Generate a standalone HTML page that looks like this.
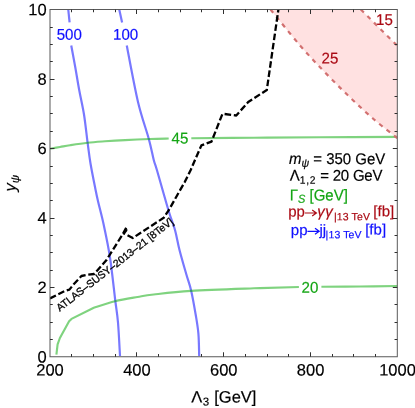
<!DOCTYPE html>
<html>
<head>
<meta charset="utf-8">
<style>
html,body{margin:0;padding:0;background:#fff;}
body{width:415px;height:408px;overflow:hidden;}
svg{display:block;will-change:transform;}
text{font-family:"Liberation Sans",sans-serif;stroke-width:0.18px;}
.it{font-style:italic;}
</style>
</head>
<body>
<svg width="415" height="408" viewBox="0 0 415 408">
<rect width="415" height="408" fill="#fff"/>
<defs><clipPath id="cp"><rect x="50.0" y="9.5" width="347.3" height="347.25"/></clipPath></defs>
<g clip-path="url(#cp)" fill="none" stroke-linejoin="round">
<path d="M270.50,9.50 C275.42,15.48 291.00,35.00 300.00,45.40 C309.00,55.80 316.33,63.40 324.50,71.90 C332.67,80.40 340.83,88.55 349.00,96.40 C357.17,104.25 365.42,112.02 373.50,119.00 C381.58,125.98 393.50,135.08 397.50,138.30 L397.5,46.0 L360.8,9.5 Z" fill="#ffe1e1" stroke="none"/>
<path d="M68.25,9.50 L69.60,22.40" stroke="#0000ff" stroke-opacity="0.53" stroke-width="2.2"/>
<path d="M71.25,45.50 C71.94,49.25 74.08,60.58 75.40,68.00 C76.73,75.42 77.77,82.25 79.20,90.00 C80.63,97.75 82.60,105.72 84.00,114.50 C85.40,123.28 86.52,134.53 87.60,142.70 C88.68,150.87 89.17,155.62 90.50,163.50 C91.83,171.38 94.32,183.58 95.60,190.00 C96.88,196.42 96.84,196.17 98.20,202.00 C99.56,207.83 101.78,215.75 103.75,225.00 C105.72,234.25 108.09,245.00 110.00,257.50 C111.91,270.00 113.87,289.17 115.20,300.00 C116.53,310.83 117.20,313.17 118.00,322.50 C118.80,331.83 119.67,350.42 120.00,356.00" stroke="#0000ff" stroke-opacity="0.53" stroke-width="2.2"/>
<path d="M119.25,9.50 L122.10,22.40" stroke="#0000ff" stroke-opacity="0.53" stroke-width="2.2"/>
<path d="M126.75,45.50 C128.62,54.92 134.33,86.46 138.00,102.00 C141.67,117.54 146.12,129.08 148.75,138.75 C151.38,148.42 152.39,154.79 153.75,160.00 C155.11,165.21 154.40,161.46 156.90,170.00 C159.40,178.54 165.73,201.25 168.75,211.25 C171.77,221.25 173.21,223.54 175.00,230.00 C176.79,236.46 177.62,242.62 179.50,250.00 C181.38,257.38 184.37,267.57 186.30,274.30 C188.23,281.03 189.53,283.67 191.10,290.40 C192.67,297.13 194.48,307.50 195.70,314.70 C196.92,321.90 197.82,326.72 198.40,333.60 C198.98,340.48 199.07,352.27 199.20,356.00" stroke="#0000ff" stroke-opacity="0.53" stroke-width="2.2"/>
<path d="M50.00,148.75 C51.67,148.46 56.67,147.59 60.00,147.00 C63.33,146.41 65.42,145.92 70.00,145.20 C74.58,144.48 81.67,143.35 87.50,142.70 C93.33,142.05 98.75,141.73 105.00,141.30 C111.25,140.87 117.50,140.48 125.00,140.10 C132.50,139.72 142.72,139.27 150.00,139.00 C157.28,138.73 165.58,138.58 168.70,138.50" stroke="#00a800" stroke-opacity="0.5" stroke-width="2.15"/>
<path d="M191.30,138.30 C201.75,138.20 232.55,137.87 254.00,137.70 C275.45,137.53 296.08,137.43 320.00,137.30 C343.92,137.17 384.58,136.97 397.50,136.90" stroke="#00a800" stroke-opacity="0.5" stroke-width="2.15"/>
<path d="M56.40,354.60 L57.60,344.40 L59.90,338.00 L69.10,321.30 L71.50,318.90 L93.80,307.70 C97.33,306.62 107.72,303.03 115.00,301.25 C122.28,299.47 131.04,298.12 137.50,297.00 C143.96,295.88 144.83,295.52 153.75,294.50 C162.67,293.48 174.29,291.93 191.00,290.90 C207.71,289.87 236.02,288.95 254.00,288.30 C271.98,287.65 291.42,287.22 298.90,287.00" stroke="#00a800" stroke-opacity="0.5" stroke-width="2.15"/>
<path d="M321.40,286.80 C327.83,286.75 347.32,286.63 360.00,286.50 C372.68,286.37 391.25,286.08 397.50,286.00" stroke="#00a800" stroke-opacity="0.5" stroke-width="2.15"/>
<path d="M270.50,9.50 C275.42,15.48 291.00,35.00 300.00,45.40 C309.00,55.80 316.33,63.40 324.50,71.90 C332.67,80.40 340.83,88.55 349.00,96.40 C357.17,104.25 365.42,112.02 373.50,119.00 C381.58,125.98 393.50,135.08 397.50,138.30" stroke="#d27070" stroke-width="2.2" stroke-dasharray="4.3 5.0"/>
<path d="M360.80,9.50 L397.50,46.00" stroke="#d27070" stroke-width="2.2" stroke-dasharray="4.3 5.0"/>
<path d="M50.00,298.40 L65.20,290.80 L69.40,289.60 L73.70,284.30 L81.40,276.00 L86.60,274.90 L94.30,274.00 L106.30,260.30 L117.50,242.50 L123.00,233.80 L126.50,227.20 L126.20,230.60 L123.80,233.40 L132.70,238.00 L163.70,217.80 L168.60,210.40 L177.60,194.50 L184.60,182.30 L190.70,170.00 L195.00,160.00 L201.40,145.40 L211.50,141.60 L222.50,113.75 L236.25,115.50 L248.20,102.00 L266.80,90.00 L278.40,9.50" stroke="#000" stroke-width="2.3" stroke-dasharray="6.6 2.7"/>
</g>
<rect x="50.0" y="9.5" width="347.3" height="347.25" fill="none" stroke="#595959" stroke-width="1"/>
<g stroke="#303030" stroke-width="1">
<line x1="71.50" y1="356.75" x2="71.50" y2="354.00"/>
<line x1="71.50" y1="9.50" x2="71.50" y2="12.25"/>
<line x1="93.50" y1="356.75" x2="93.50" y2="354.00"/>
<line x1="93.50" y1="9.50" x2="93.50" y2="12.25"/>
<line x1="115.50" y1="356.75" x2="115.50" y2="354.00"/>
<line x1="115.50" y1="9.50" x2="115.50" y2="12.25"/>
<line x1="136.50" y1="356.75" x2="136.50" y2="352.25"/>
<line x1="136.50" y1="9.50" x2="136.50" y2="14.00"/>
<line x1="158.50" y1="356.75" x2="158.50" y2="354.00"/>
<line x1="158.50" y1="9.50" x2="158.50" y2="12.25"/>
<line x1="180.50" y1="356.75" x2="180.50" y2="354.00"/>
<line x1="180.50" y1="9.50" x2="180.50" y2="12.25"/>
<line x1="201.50" y1="356.75" x2="201.50" y2="354.00"/>
<line x1="201.50" y1="9.50" x2="201.50" y2="12.25"/>
<line x1="223.50" y1="356.75" x2="223.50" y2="352.25"/>
<line x1="223.50" y1="9.50" x2="223.50" y2="14.00"/>
<line x1="245.50" y1="356.75" x2="245.50" y2="354.00"/>
<line x1="245.50" y1="9.50" x2="245.50" y2="12.25"/>
<line x1="267.50" y1="356.75" x2="267.50" y2="354.00"/>
<line x1="267.50" y1="9.50" x2="267.50" y2="12.25"/>
<line x1="288.50" y1="356.75" x2="288.50" y2="354.00"/>
<line x1="288.50" y1="9.50" x2="288.50" y2="12.25"/>
<line x1="310.50" y1="356.75" x2="310.50" y2="352.25"/>
<line x1="310.50" y1="9.50" x2="310.50" y2="14.00"/>
<line x1="332.50" y1="356.75" x2="332.50" y2="354.00"/>
<line x1="332.50" y1="9.50" x2="332.50" y2="12.25"/>
<line x1="353.50" y1="356.75" x2="353.50" y2="354.00"/>
<line x1="353.50" y1="9.50" x2="353.50" y2="12.25"/>
<line x1="375.50" y1="356.75" x2="375.50" y2="354.00"/>
<line x1="375.50" y1="9.50" x2="375.50" y2="12.25"/>
<line x1="50.00" y1="339.50" x2="52.75" y2="339.50"/>
<line x1="397.30" y1="339.50" x2="394.55" y2="339.50"/>
<line x1="50.00" y1="322.50" x2="52.75" y2="322.50"/>
<line x1="397.30" y1="322.50" x2="394.55" y2="322.50"/>
<line x1="50.00" y1="304.50" x2="52.75" y2="304.50"/>
<line x1="397.30" y1="304.50" x2="394.55" y2="304.50"/>
<line x1="50.00" y1="287.50" x2="54.50" y2="287.50"/>
<line x1="397.30" y1="287.50" x2="392.80" y2="287.50"/>
<line x1="50.00" y1="270.50" x2="52.75" y2="270.50"/>
<line x1="397.30" y1="270.50" x2="394.55" y2="270.50"/>
<line x1="50.00" y1="252.50" x2="52.75" y2="252.50"/>
<line x1="397.30" y1="252.50" x2="394.55" y2="252.50"/>
<line x1="50.00" y1="235.50" x2="52.75" y2="235.50"/>
<line x1="397.30" y1="235.50" x2="394.55" y2="235.50"/>
<line x1="50.00" y1="218.50" x2="54.50" y2="218.50"/>
<line x1="397.30" y1="218.50" x2="392.80" y2="218.50"/>
<line x1="50.00" y1="200.50" x2="52.75" y2="200.50"/>
<line x1="397.30" y1="200.50" x2="394.55" y2="200.50"/>
<line x1="50.00" y1="183.50" x2="52.75" y2="183.50"/>
<line x1="397.30" y1="183.50" x2="394.55" y2="183.50"/>
<line x1="50.00" y1="166.50" x2="52.75" y2="166.50"/>
<line x1="397.30" y1="166.50" x2="394.55" y2="166.50"/>
<line x1="50.00" y1="148.50" x2="54.50" y2="148.50"/>
<line x1="397.30" y1="148.50" x2="392.80" y2="148.50"/>
<line x1="50.00" y1="131.50" x2="52.75" y2="131.50"/>
<line x1="397.30" y1="131.50" x2="394.55" y2="131.50"/>
<line x1="50.00" y1="113.50" x2="52.75" y2="113.50"/>
<line x1="397.30" y1="113.50" x2="394.55" y2="113.50"/>
<line x1="50.00" y1="96.50" x2="52.75" y2="96.50"/>
<line x1="397.30" y1="96.50" x2="394.55" y2="96.50"/>
<line x1="50.00" y1="79.50" x2="54.50" y2="79.50"/>
<line x1="397.30" y1="79.50" x2="392.80" y2="79.50"/>
<line x1="50.00" y1="61.50" x2="52.75" y2="61.50"/>
<line x1="397.30" y1="61.50" x2="394.55" y2="61.50"/>
<line x1="50.00" y1="44.50" x2="52.75" y2="44.50"/>
<line x1="397.30" y1="44.50" x2="394.55" y2="44.50"/>
<line x1="50.00" y1="27.50" x2="52.75" y2="27.50"/>
<line x1="397.30" y1="27.50" x2="394.55" y2="27.50"/>
</g>
<text transform="translate(50,375.6) rotate(0.03) scale(1,1.0)" font-size="16.5" fill="#000" stroke="#000" text-anchor="middle">200</text>
<text transform="translate(136.9,375.6) rotate(0.03) scale(1,1.0)" font-size="16.5" fill="#000" stroke="#000" text-anchor="middle">400</text>
<text transform="translate(223.75,375.6) rotate(0.03) scale(1,1.0)" font-size="16.5" fill="#000" stroke="#000" text-anchor="middle">600</text>
<text transform="translate(310.6,375.6) rotate(0.03) scale(1,1.0)" font-size="16.5" fill="#000" stroke="#000" text-anchor="middle">800</text>
<text transform="translate(397.5,375.6) rotate(0.03) scale(1,1.0)" font-size="16.5" fill="#000" stroke="#000" text-anchor="middle">1000</text>
<text transform="translate(46.6,362.45) rotate(0.03) scale(1,1.0)" font-size="16.5" fill="#000" stroke="#000" text-anchor="end">0</text>
<text transform="translate(46.6,293.0) rotate(0.03) scale(1,1.0)" font-size="16.5" fill="#000" stroke="#000" text-anchor="end">2</text>
<text transform="translate(46.6,223.55) rotate(0.03) scale(1,1.0)" font-size="16.5" fill="#000" stroke="#000" text-anchor="end">4</text>
<text transform="translate(46.6,154.1) rotate(0.03) scale(1,1.0)" font-size="16.5" fill="#000" stroke="#000" text-anchor="end">6</text>
<text transform="translate(46.6,84.65) rotate(0.03) scale(1,1.0)" font-size="16.5" fill="#000" stroke="#000" text-anchor="end">8</text>
<text transform="translate(46.6,15.2) rotate(0.03) scale(1,1.0)" font-size="16.5" fill="#000" stroke="#000" text-anchor="end">10</text>
<text transform="translate(191.2,402.4) rotate(0.03) scale(1,1.0)" font-size="16.5" fill="#000" stroke="#000" text-anchor="start">Λ<tspan font-size="11.5" dy="3.2" dx="0.6">3</tspan><tspan dy="-3.2" dx="0.4"> [GeV]</tspan></text>
<text transform="translate(15.8,191.5) rotate(-90) scale(1,1.0)" font-size="16.5" fill="#000" stroke="#000" text-anchor="start" class="it">y<tspan font-size="11.5" dy="3">ψ</tspan></text>
<text transform="translate(69.25,39.8) rotate(0.03) scale(1,1.03)" font-size="15.1" fill="#1010ff" stroke="#1010ff" text-anchor="middle">500</text>
<text transform="translate(125.6,39.8) rotate(0.03) scale(1,1.03)" font-size="15.1" fill="#1010ff" stroke="#1010ff" text-anchor="middle">100</text>
<text transform="translate(179.9,143.5) rotate(0.03) scale(1,1.03)" font-size="15.1" fill="#14a514" stroke="#14a514" text-anchor="middle">45</text>
<text transform="translate(310,292.8) rotate(0.03) scale(1,1.03)" font-size="15.1" fill="#14a514" stroke="#14a514" text-anchor="middle">20</text>
<text transform="translate(330,63.6) rotate(0.03) scale(1,1.03)" font-size="15.1" fill="#aa0a14" stroke="#aa0a14" text-anchor="middle">25</text>
<text transform="translate(384.4,25) rotate(0.03) scale(1,1.03)" font-size="15.1" fill="#aa0a14" stroke="#aa0a14" text-anchor="middle">15</text>
<text transform="translate(289,164.1) rotate(0.03) scale(1,1.05)" font-size="15" fill="#000" stroke="#000" text-anchor="start"><tspan class="it">m</tspan><tspan font-size="10.5" dy="2.6" class="it">ψ</tspan><tspan dy="-2.6"> = 350 GeV</tspan></text>
<text transform="translate(289.8,180.8) rotate(0.03) scale(1,1.05)" font-size="15" fill="#000" stroke="#000" text-anchor="start">Λ<tspan font-size="10.3" dy="2.8" letter-spacing="0.7">1,2</tspan><tspan dy="-2.8" letter-spacing="-0.2"> = 20 GeV</tspan></text>
<text transform="translate(289.8,200.5) rotate(0.03) scale(1,1.05)" font-size="15" fill="#14a514" stroke="#14a514" text-anchor="start">Γ<tspan font-size="11" dy="2.2" class="it">S</tspan><tspan dy="-2.2"> [GeV]</tspan></text>
<text transform="translate(288.2,216.4) rotate(0.03) scale(1,1.0)" font-size="15" fill="#aa0a14" stroke="#aa0a14" text-anchor="start">pp</text>
<text transform="translate(317.3,216.4) rotate(0.03) scale(1,1.0)" font-size="15" fill="#aa0a14" stroke="#aa0a14" text-anchor="start" class="it" letter-spacing="0.5">γγ</text>
<text transform="translate(334,220.2) rotate(0.03) scale(1,1.0)" font-size="10.5" fill="#aa0a14" stroke="#aa0a14" text-anchor="start" letter-spacing="0.12">|13 TeV</text>
<text transform="translate(373.3,216.3) rotate(0.03) scale(1,1.0)" font-size="15" fill="#aa0a14" stroke="#aa0a14" text-anchor="start">[fb]</text>
<text transform="translate(290.8,234.9) rotate(0.03) scale(1,1.0)" font-size="15" fill="#1010ff" stroke="#1010ff" text-anchor="start">pp</text>
<text transform="translate(319.4,234.9) rotate(0.03) scale(1,1.0)" font-size="15" fill="#1010ff" stroke="#1010ff" text-anchor="start">jj</text>
<text transform="translate(325.6,238.2) rotate(0.03) scale(1,1.0)" font-size="10.5" fill="#1010ff" stroke="#1010ff" text-anchor="start" letter-spacing="0.12">|13 TeV</text>
<text transform="translate(365.2,234.6) rotate(0.03) scale(1,1.0)" font-size="15" fill="#1010ff" stroke="#1010ff" text-anchor="start">[fb]</text>
<text transform="translate(59.7,311.8) rotate(-37.8) scale(1,1.0)" font-size="10.4" fill="#000" stroke="#000" text-anchor="start" style="stroke-width:0.3px">ATLAS–SUSY–2013–21 [8TeV]</text>
<path d="M305,213 H316.2 M312.2,210 L316.4,213 L312.2,216" fill="none" stroke="#aa0a14" stroke-width="1.2"/>
<path d="M307.4,231.3 H319 M315,228.3 L319.2,231.3 L315,234.3" fill="none" stroke="#1010ff" stroke-width="1.2"/>
</svg>
</body>
</html>
